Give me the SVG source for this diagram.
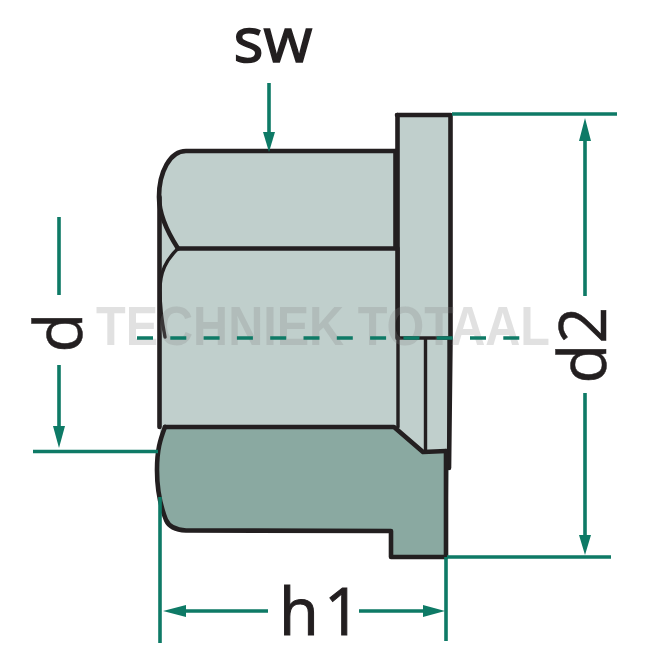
<svg xmlns="http://www.w3.org/2000/svg" width="650" height="650" viewBox="0 0 650 650">
<style>
.ol{stroke:#231f20;stroke-width:4.6;fill:none;stroke-linejoin:round;stroke-linecap:round}
.th{stroke-width:3.4}
.dim{stroke:#0e7a66;stroke-width:3.6;fill:none}
.hd{fill:#0e7a66}
.lb{font-family:"Open Sans","Liberation Sans",Arial,sans-serif;font-size:65px;fill:#231f20}
</style>
<rect width="650" height="650" fill="#fff"/>
<g id="nut">
<path fill="#c0cfcc" d="M159 197C159 172 170 151 186 151L397 151V115H450.500V338L449 468L446 557H391V531H180L160 470V287Z"/>
<path fill="#8aa9a1" d="M165 427H394L423 452L446 451V557H391V531L186 530.500C176 530 169 527 166 520C160 505 157 490 157 470C157 450 160 440 165 427Z"/>
<g id="outline">
<path class="ol" d="M159.500 197V427"/>
<path class="ol" d="M396 151H186C170 151 159 172 159 197C159 215 168 233 178 248.500"/>
<path class="ol th" d="M178 248.500C166 260 160 272 160 290C160 305 162 322 165 337"/>
<path class="ol" d="M178 248.500H396"/>
<path class="ol" d="M395.500 151V248"/>
<path class="ol" d="M397 115H450.500V338L449 468"/>
<path class="ol" d="M397.500 115V338"/>
<path class="ol th" d="M398 248V427M425.500 338V451M398 338H449"/>
<path class="ol" d="M165 427H394L423 452L446 451"/>
<path class="ol th" d="M449 338V468"/>
<path class="ol" d="M165 427C160 440 157 450 157 470C157 490 160 505 166 520C169 527 176 530 186 530.500L391 531V557H446V451"/>
</g>
</g>
<text id="watermark" x="96" y="345" textLength="454" lengthAdjust="spacingAndGlyphs" font-family="'Liberation Sans',Arial,sans-serif" font-size="55" font-weight="bold" fill="#808080" fill-opacity="0.24">TECHNIEK TOTAAL</text>
<g id="connectors">
<path class="dim" d="M137 338H520" stroke-dasharray="16 17.300"/>
<path class="dim" d="M269 83V134"/><path class="hd" d="M263 132H275L269 152Z"/>
<path class="dim" d="M59 217V295M59 365V428M33 451.500H158"/><path class="hd" d="M53 426H65L59 448Z"/>
<path class="dim" d="M160 497V643M446 557V641M184 611H268M359 611H425"/>
<path class="hd" d="M163 611L186 605V617ZM445 611L423 605V617Z"/>
<path class="dim" d="M452 114H617M447 557H611M585 139V296M585 393V537"/>
<path class="hd" d="M585 118L591 141H579ZM585 555L579 535H591Z"/>
</g>
<g id="labels">
<text class="lb" x="273" y="62" text-anchor="middle" font-size="63" stroke="#231f20" stroke-width="1.500" style="font-size:63px">sw</text>
<text class="lb" x="279" y="635" stroke="#231f20" stroke-width="1">h<tspan dx="5">1</tspan></text>
<text class="lb" transform="translate(82 352.500) rotate(-90)" stroke="#231f20" stroke-width="0.500">d</text>
<text class="lb" transform="translate(606 383.500) rotate(-90)" stroke="#231f20" stroke-width="0.500">d2</text>
</g>
</svg>
